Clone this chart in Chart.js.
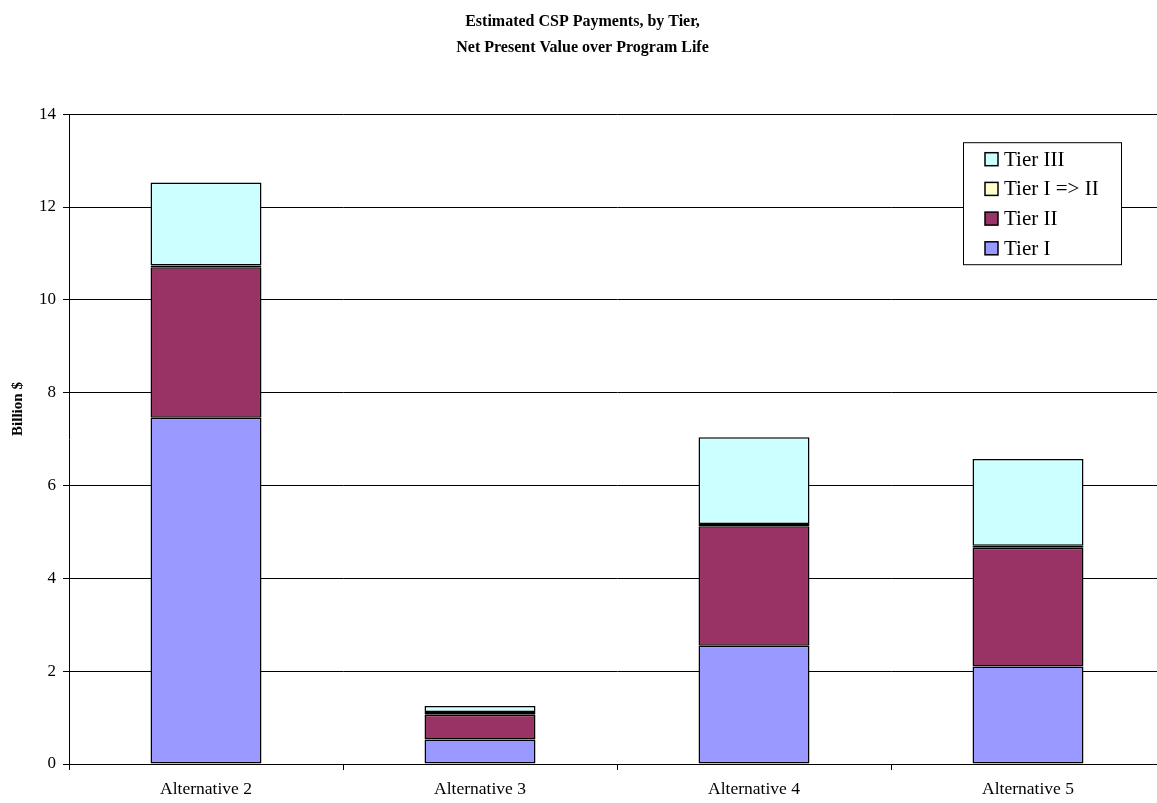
<!DOCTYPE html>
<html>
<head>
<meta charset="utf-8">
<script src="https://cdn.jsdelivr.net/npm/chart.js@4/dist/chart.umd.min.js"></script>
<style>
  html, body { margin: 0; padding: 0; background: #fff; overflow: hidden; }
  #wrap { width: 1165px; height: 803px; }
</style>
</head>
<body>
<div id="wrap"><canvas id="c" width="1165" height="803"></canvas></div>
<script>
// Estimated CSP payments (billion $, NPV over program life), stacked by tier
const categories = ['Alternative 2', 'Alternative 3', 'Alternative 4', 'Alternative 5'];
const tierI      = [7.46, 0.53, 2.55, 2.10];
const tierII     = [3.24, 0.53, 2.57, 2.56];
const tierItoII  = [0.04, 0.06, 0.05, 0.04];
const tierIII    = [1.79, 0.13, 1.87, 1.87];
const yTicks     = [0, 2, 4, 6, 8, 10, 12, 14];
const yAxisLabel = 'Billion $';

const serif = '"Liberation Serif", "Times New Roman", serif';

// Boxed legend drawn inside the plot area, top series first
const boxLegend = {
  id: 'boxLegend',
  afterDraw(chart) {
    const ctx = chart.ctx;
    const ca = chart.chartArea;
    const x0 = ca.right - 202, y0 = ca.top + 28, w = 158, h = 122;
    ctx.save();
    ctx.fillStyle = '#fff';
    ctx.fillRect(x0, y0, w, h);
    ctx.strokeStyle = '#000';
    ctx.lineWidth = 1;
    ctx.strokeRect(x0 + 0.5, y0 + 0.5, w, h);
    const items = chart.data.datasets.slice().reverse();
    ctx.font = '21px ' + serif;
    ctx.textBaseline = 'middle';
    items.forEach((ds, i) => {
      const cy = y0 + 17 + i * 29.7;
      ctx.fillStyle = ds.backgroundColor;
      ctx.fillRect(x0 + 22, cy - 6.5, 13, 13);
      ctx.lineWidth = 1.5;
      ctx.strokeStyle = '#000';
      ctx.strokeRect(x0 + 22, cy - 6.5, 13, 13);
      ctx.fillStyle = '#000';
      ctx.fillText(ds.label, x0 + 41, cy + 1);
    });
    ctx.restore();
  }
};

// Rotated value-axis caption
const axisCaption = {
  id: 'axisCaption',
  afterDraw(chart) {
    const ctx = chart.ctx;
    ctx.save();
    ctx.translate(18, 409);
    ctx.rotate(-Math.PI / 2);
    ctx.font = 'bold 15px ' + serif;
    ctx.fillStyle = '#000';
    ctx.textAlign = 'center';
    ctx.textBaseline = 'middle';
    ctx.fillText(yAxisLabel, 0, 0);
    ctx.restore();
  }
};

const mk = (label, data, color) => ({
  label, data,
  backgroundColor: color,
  borderColor: '#000',
  borderWidth: 1.5,
  borderSkipped: false,
  categoryPercentage: 1.0,
  barPercentage: 0.405
});

new Chart(document.getElementById('c'), {
  type: 'bar',
  data: {
    labels: categories,
    datasets: [
      mk('Tier I', tierI, '#9999FF'),
      mk('Tier II', tierII, '#993366'),
      mk('Tier I => II', tierItoII, '#FFFFCC'),
      mk('Tier III', tierIII, '#CCFFFF')
    ]
  },
  options: {
    responsive: false,
    animation: false,
    layout: { padding: { left: 0, right: 0, top: 0, bottom: 0 } },
    plugins: {
      legend: { display: false },
      tooltip: { enabled: false },
      title: {
        display: true,
        text: ['Estimated CSP Payments, by Tier,', 'Net Present Value over Program Life'],
        color: '#000',
        font: { family: serif, size: 16, weight: 'bold', lineHeight: 1.6 },
        padding: { top: 9, bottom: 54 }
      }
    },
    scales: {
      x: {
        stacked: true,
        offset: true,
        grid: { offset: true, drawOnChartArea: false, color: '#000', tickLength: 6, lineWidth: 1 },
        border: { color: '#000', width: 1 },
        ticks: { color: '#000', font: { family: serif, size: 17.5 }, padding: 9, maxRotation: 0 },
        afterFit(s) { s.height = 39; }
      },
      y: {
        stacked: true,
        min: 0, max: 14,
        afterBuildTicks(s) { s.ticks = yTicks.map(v => ({ value: v })); },
        grid: { color: '#000', lineWidth: 1, tickLength: 6 },
        border: { color: '#000', width: 1 },
        ticks: { color: '#000', font: { family: serif, size: 17 }, padding: 7 },
        afterFit(s) { s.width = 69; }
      }
    }
  },
  plugins: [boxLegend, axisCaption]
});
</script>
</body>
</html>
